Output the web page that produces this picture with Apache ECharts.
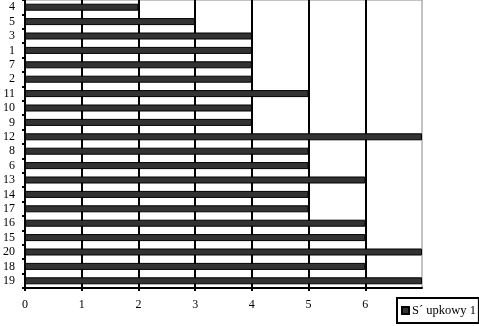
<!DOCTYPE html>
<html>
<head>
<meta charset="utf-8">
<script src="https://cdn.jsdelivr.net/npm/echarts@6/dist/echarts.min.js"></script>
<style>
html,body{margin:0;padding:0;background:#fff;}
#chart{width:479px;height:326px;}
</style>
</head>
<body>
<div id="chart"></div>
<script>
const categories = ['4','5','3','1','7','2','11','10','9','12','8','6','13','14','17','16','15','20','18','19'];
const values = [2,3,4,4,4,4,5,4,4,7,5,5,6,5,5,6,6,7,6,7];
const xTicks = [0,1,2,3,4,5,6];
const seriesName = 'S\u00B4 upkowy 1';

const FONT = '"Liberation Serif", "DejaVu Serif", serif';
const chart = echarts.init(document.getElementById('chart'), null, {renderer: 'canvas'});
chart.setOption({
  backgroundColor: '#ffffff',
  animation: false,
  grid: {
    left: 22, right: 57, top: 0, bottom: 38,
    show: true, borderColor: '#888888', borderWidth: 1, backgroundColor: '#ffffff'
  },
  legend: {
    show: true,
    left: 397, top: 298,
    orient: 'horizontal',
    data: [seriesName],
    icon: 'rect',
    itemWidth: 7, itemHeight: 7, itemGap: 4,
    borderColor: '#000', borderWidth: 2,
    padding: [6, 3, 6, 4],
    backgroundColor: '#fff',
    textStyle: {fontFamily: FONT, fontSize: 12.5, color: '#000', padding: [0,0,0,-2]}
  },
  xAxis: {
    type: 'value',
    min: 0, max: 7, interval: 1,
    axisLine: {show: true, lineStyle: {color: '#000', width: 2}},
    axisTick: {show: true, length: 3, lineStyle: {color: '#000', width: 2}, customValues: xTicks},
    axisLabel: {fontFamily: FONT, fontSize: 12, color: '#000', margin: 11, customValues: xTicks},
    splitLine: {show: true, showMinLine: false, showMaxLine: true, lineStyle: {color: '#000', width: 2}}
  },
  yAxis: {
    type: 'category',
    inverse: true,
    data: categories,
    axisLine: {show: true, lineStyle: {color: '#000', width: 2}},
    axisTick: {show: true, length: 3, lineStyle: {color: '#000', width: 2}},
    axisLabel: {fontFamily: FONT, fontSize: 12, color: '#000', margin: 10, interval: 0},
    splitLine: {show: false}
  },
  series: [{
    name: seriesName,
    type: 'bar',
    data: values,
    barWidth: 7,
    itemStyle: {color: '#333333', borderColor: '#000', borderWidth: 1}
  }]
});
</script>
</body>
</html>
